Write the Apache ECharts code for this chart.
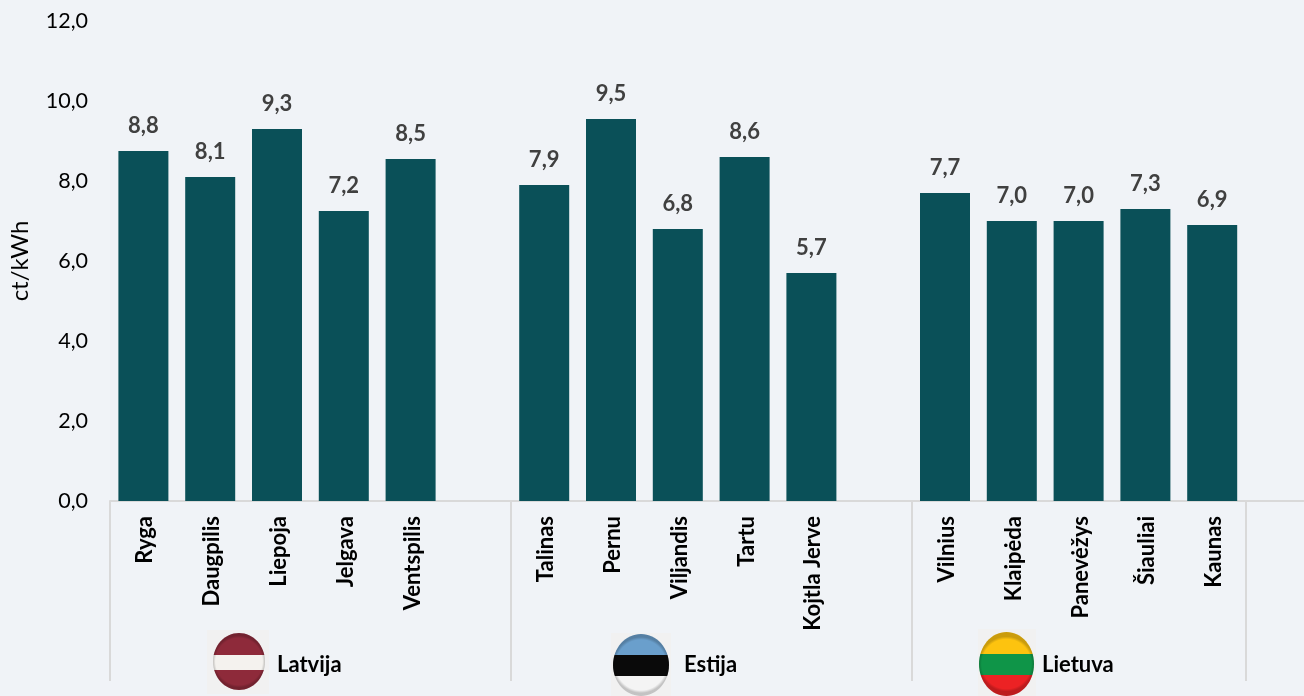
<!DOCTYPE html>
<html>
<head>
<meta charset="utf-8">
<title>ct/kWh</title>
<script src="https://cdn.jsdelivr.net/npm/echarts@6/dist/echarts.min.js"></script>
<style>
  html, body { margin: 0; padding: 0; background: #f0f3f7; }
  #main { width: 1304px; height: 696px; }
</style>
</head>
<body>
<div id="main"></div>
<script>
// blank entries are the gaps between the countries
const cities = ['Ryga', 'Daugpilis', 'Liepoja', 'Jelgava', 'Ventspilis', '',
  'Talinas', 'Pernu', 'Viljandis', 'Tartu', 'Kojtla Jerve', '',
  'Vilnius', 'Klaipėda', 'Panevėžys', 'Šiauliai', 'Kaunas', ''];
const prices = [8.75, 8.1, 9.3, 7.25, 8.55, null,
  7.9, 9.55, 6.8, 8.6, 5.7, null,
  7.7, 7.0, 7.0, 7.3, 6.9, null];
const priceLabels = ['8,8', '8,1', '9,3', '7,2', '8,5', '',
  '7,9', '9,5', '6,8', '8,6', '5,7', '',
  '7,7', '7,0', '7,0', '7,3', '6,9', ''];
const separators = [0, 6, 12, 17];
const countries = ['Latvija', 'Estija', 'Lietuva'];

const fontName = 'Lato';

// hard colour stops, the flags have 3 horizontal stripes
function stripes(colors, a, b) {
  return new echarts.graphic.LinearGradient(0, 0, 0, 1, [
    { offset: 0, color: colors[0] }, { offset: a, color: colors[0] },
    { offset: a, color: colors[1] }, { offset: b, color: colors[1] },
    { offset: b, color: colors[2] }, { offset: 1, color: colors[2] }
  ]);
}

function flag(x, y, rx, ry, colors, a, b, box) {
  const shade = new echarts.graphic.RadialGradient(0.5, 0.5, 0.5, [
    { offset: 0, color: 'rgba(0,0,0,0)' },
    { offset: 0.9, color: 'rgba(0,0,0,0)' },
    { offset: 1, color: 'rgba(0,0,0,0.2)' }
  ]);
  return [
    { type: 'rect', shape: { x: box[0], y: box[1], width: box[2], height: box[3] }, style: { fill: '#f1f1f1' } },
    { type: 'ellipse', shape: { cx: x, cy: y, rx: rx, ry: ry }, style: { fill: stripes(colors, a, b) } },
    { type: 'ellipse', shape: { cx: x, cy: y, rx: rx, ry: ry }, style: { fill: shade } }
  ];
}

function countryText(x, text) {
  return {
    type: 'text', x: x, y: 665,
    style: { text: text, fill: '#000', font: 'bold 22px ' + fontName, textVerticalAlign: 'middle' }
  };
}

let option = {
  backgroundColor: '#f0f3f7',
  animation: false,
  // the last blank category runs past the right edge of the picture
  grid: { left: 110, width: 1202.4, top: 21, height: 480, containLabel: false, outerBoundsMode: 'none' },
  xAxis: {
    type: 'category',
    data: cities,
    axisLine: { lineStyle: { color: '#d9d9d9', width: 2 } },
    axisTick: {
      show: true,
      length: 180,
      interval: (index) => separators.includes(index),
      lineStyle: { color: '#d9d9d9', width: 2 }
    },
    axisLabel: {
      interval: 0,
      rotate: 90,
      margin: 15,
      formatter: (v) => v ? '{city|' + v + '}' : '',
      rich: {
        city: {
          padding: [4, 0, 0, 0],
          color: '#000',
          fontFamily: fontName,
          fontWeight: 'bold',
          fontSize: 22
        }
      }
    }
  },
  yAxis: {
    type: 'value',
    min: 0,
    max: 12,
    interval: 2,
    name: 'ct/kWh',
    nameLocation: 'middle',
    nameGap: 78,
    nameTextStyle: { color: '#000', fontFamily: fontName, fontSize: 24 },
    axisLine: { show: false },
    axisTick: { show: false },
    splitLine: { show: false },
    axisLabel: {
      margin: 22,
      padding: [2, 0, 0, 0],
      color: '#000',
      fontFamily: fontName,
      fontSize: 21.5,
      formatter: (v) => v.toFixed(1).replace('.', ',')
    }
  },
  series: [{
    type: 'bar',
    data: prices,
    barWidth: 50,
    itemStyle: { color: '#0a5058' },
    label: {
      show: true,
      position: 'top',
      distance: 14,
      color: '#404040',
      fontFamily: fontName,
      fontWeight: 'bold',
      fontSize: 22,
      formatter: (p) => priceLabels[p.dataIndex]
    }
  }],
  graphic: [
    ...flag(239, 661.5, 26, 28.5, ['#8e2a3a', '#f4f2ee', '#8e2a3a'], 0.39, 0.65, [207, 630, 62, 64]),
    ...flag(641, 665, 28, 31, ['#6a9fcc', '#0a0a0a', '#f4f4f4'], 0.34, 0.68, [611, 633, 60, 63]),
    ...flag(1006.5, 664, 27.5, 32, ['#fdc30f', '#0f9548', '#ec2224'], 0.34, 0.67, [978, 629, 58, 67]),
    countryText(277, countries[0]),
    countryText(684, countries[1]),
    countryText(1042, countries[2])
  ]
};

let myChart = echarts.init(document.getElementById('main'));
myChart.setOption(option);
</script>
</body>
</html>
